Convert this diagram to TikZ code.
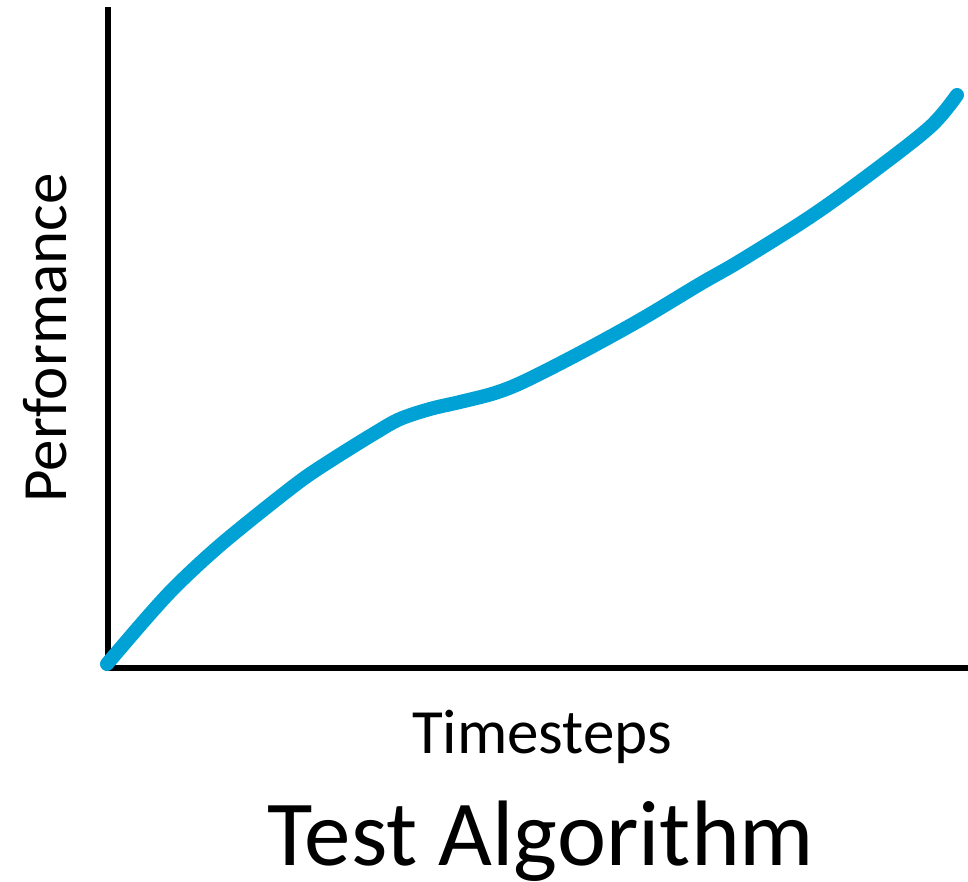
\documentclass[tikz,border=0pt]{standalone}
\usepackage{fontspec}
\setmainfont{Carlito}
\usepackage{tikz}
\usetikzlibrary{arrows,positioning}
\definecolor{curveblue}{RGB}{0,162,214}
\tikzset{
    >=stealth,
    axis line/.style={draw,line width=6.5pt},
    perf curve/.style={draw=curveblue,line width=14pt,line cap=round,line join=round},
    axis label/.style={font=\fontsize{63}{70}\selectfont,inner sep=0pt},
    title label/.style={font=\fontsize{93}{100}\selectfont,inner sep=0pt}
}
\begin{document}
\begin{tikzpicture}[x=1pt,y=-1pt]
    \useasboundingbox (0,0) rectangle (968,882);
    \coordinate (origin) at (108,668);
    \coordinate (ytop) at (108,7);
    \coordinate (xend) at (968,668);
    \draw[axis line] (ytop) -- (origin.center) -- (xend);
    % performance curve
    \draw[perf curve] plot[smooth,tension=0.55] coordinates {
        (107,664) (150,614) (180,582) (225,541) (295,485) (330,461)
        (375,433) (400,419) (430,409) (460,402) (495,393) (525,381)
        (580,353) (640,320) (700,284) (740,261) (810,217) (870,174)
        (930,127) (957,95)};
    \node[axis label,anchor=base,rotate=90] (ylabel) at (66,338) {Performance};
    \node[axis label,anchor=base] (xlabel) at (542,753) {Timesteps};
    \node[title label,anchor=base] (title) at (541,865) {Test Algorithm};
\end{tikzpicture}
\end{document}
